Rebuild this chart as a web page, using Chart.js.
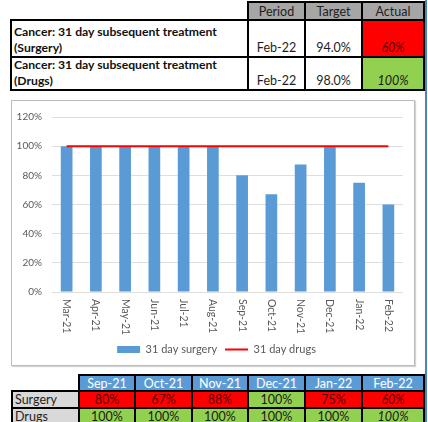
<!DOCTYPE html>
<html>
<head>
<meta charset="utf-8">
<title>Cancer: 31 day subsequent treatment</title>
<script src="https://cdn.jsdelivr.net/npm/chart.js@4.4.1/dist/chart.umd.min.js"></script>
<style>
  body { margin: 0; background: #fff; font-family: Lato, "Open Sans", sans-serif; }
  #page { position: relative; width: 428px; height: 422px; overflow: hidden; }
  .cell { position: absolute; box-sizing: border-box; border: 2px solid #000; display: flex;
          font-size: 12.5px; color: #1e1e1e; white-space: nowrap; }
  #edge { position: absolute; left: 425px; top: 0; width: 2px; height: 422px; background: #4f81bd; }
  #chartBox { position: absolute; left: 11px; top: 100px; width: 402px; height: 264px;
              border: 1px solid #bcbcbc; box-shadow: 1px 1px 1px #d4d4d4; }
</style>
</head>
<body>
<div id="page">
  <div id="chartBox"><canvas id="myChart" width="402" height="264"></canvas></div>
  <div id="edge"></div>
</div>
<script>
const months = ['Mar-21', 'Apr-21', 'May-21', 'Jun-21', 'Jul-21', 'Aug-21',
                'Sep-21', 'Oct-21', 'Nov-21', 'Dec-21', 'Jan-22', 'Feb-22'];
const surgery = [100, 100, 100, 100, 100, 100, 80, 67, 87.5, 100, 75, 60];
const drugs = [100, 100, 100, 100, 100, 100, 100, 100, 100, 100, 100, 100];
const measures = ['(Surgery)', '(Drugs)'];
const rowNames = ['Surgery', 'Drugs'];
const targets = [94.0, 98.0];
const yTicks = [0, 20, 40, 60, 80, 100, 120];

const font = 'Lato, "Open Sans", sans-serif';
const series = [surgery, drugs];
const last = months.length - 1;

// tables around the chart
const page = document.getElementById('page');
function cell(x0, y0, x1, y1, html, css) {
  const d = document.createElement('div');
  d.className = 'cell';
  d.style.left = (x0 - 1) + 'px';
  d.style.top = (y0 - 1) + 'px';
  d.style.width = (x1 - x0 + 2) + 'px';
  d.style.height = (y1 - y0 + 2) + 'px';
  Object.assign(d.style, css || {});
  d.innerHTML = html;
  page.appendChild(d);
}
function rag(v, t) {
  return v >= t ? { background: '#92d050', color: '#1a1a1a' } : { background: '#ff0000', color: '#5a0000' };
}

const topCols = [11, 248, 305, 362, 424];
const topRows = [2, 20, 57, 90];
['Period', 'Target', 'Actual'].forEach((h, i) => {
  cell(topCols[i + 1], topRows[0], topCols[i + 2], topRows[1], h,
    { background: '#a6a6a6', justifyContent: 'center', alignItems: 'center', paddingTop: '1px' });
});
measures.forEach((m, r) => {
  const y0 = topRows[r + 1], y1 = topRows[r + 2];
  cell(topCols[0], y0, topCols[1], y1, 'Cancer: 31 day subsequent treatment<br>' + m,
    { fontWeight: 'bold', fontSize: '12.2px', flexDirection: 'column', justifyContent: 'flex-end',
      lineHeight: '15.5px', padding: '0 0 1px 2px', color: '#111' });
  const bottom = { justifyContent: 'center', alignItems: 'flex-end', paddingBottom: '1px' };
  cell(topCols[1], y0, topCols[2], y1, months[last], bottom);
  cell(topCols[2], y0, topCols[3], y1, targets[r].toFixed(1) + '%', bottom);
  const v = series[r][last];
  cell(topCols[3], y0, topCols[4], y1, Math.round(v) + '%',
    Object.assign({}, bottom, rag(v, targets[r]), { fontStyle: 'italic' }));
});

const botCols = [12, 79, 135, 192, 248, 305, 362, 424];
const botRows = [375, 391, 408, 425];
const shown = months.slice(-6);
shown.forEach((m, i) => {
  cell(botCols[i + 1], botRows[0], botCols[i + 2], botRows[1], m,
    { background: '#5b9bd5', color: '#fff', justifyContent: 'center', alignItems: 'center' });
});
rowNames.forEach((n, r) => {
  const y0 = botRows[r + 1], y1 = botRows[r + 2];
  cell(botCols[0], y0, botCols[1], y1, n,
    { background: '#d9d9d9', alignItems: 'center', paddingLeft: '2px' });
  shown.forEach((m, i) => {
    const v = series[r][months.length - 6 + i];
    const css = Object.assign({ justifyContent: 'center', alignItems: 'center' }, rag(v, targets[r]));
    if (i === shown.length - 1) css.fontStyle = 'italic';
    cell(botCols[i + 1], y0, botCols[i + 2], y1, Math.round(v) + '%', css);
  });
});
page.appendChild(document.getElementById('edge'));

// month labels read top-to-bottom under each bar
const downLabels = {
  id: 'downLabels',
  afterLayout(chart) {
    // legend sits a little right of centre, as in the sheet
    chart.legend.left += 9;
    chart.legend.right += 9;
  },
  afterDraw(chart) {
    const ctx = chart.ctx;
    const xs = chart.scales.x;
    const top = chart.chartArea.bottom + 7;
    ctx.save();
    ctx.font = '10.5px ' + font;
    ctx.fillStyle = '#595959';
    ctx.textAlign = 'left';
    ctx.textBaseline = 'middle';
    chart.data.labels.forEach((lab, i) => {
      ctx.save();
      ctx.translate(xs.getPixelForTick(i), top);
      ctx.rotate(Math.PI / 2);
      ctx.fillText(lab, 0, 0);
      ctx.restore();
    });
    ctx.restore();
  }
};

const data = {
  labels: months,
  datasets: [
    {
      type: 'bar',
      label: '31 day surgery',
      data: surgery,
      backgroundColor: '#5b9bd5',
      borderWidth: 0,
      barPercentage: 0.4,
      categoryPercentage: 1,
      pointStyle: 'rect',
      order: 1
    },
    {
      type: 'line',
      label: '31 day drugs',
      data: drugs,
      borderColor: '#ff0000',
      backgroundColor: '#ff0000',
      borderWidth: 2,
      pointRadius: 0,
      pointStyle: 'line',
      order: 0
    }
  ]
};

const config = {
  type: 'bar',
  data: data,
  options: {
    responsive: false,
    animation: false,
    layout: { padding: { top: 11, right: 11, left: 0, bottom: 0 } },
    plugins: {
      legend: {
        position: 'bottom',
        labels: {
          usePointStyle: true,
          pointStyleWidth: 23,
          boxHeight: 7,
          padding: 8,
          color: '#595959',
          font: { size: 11, family: font },
          sort: (a, b) => a.datasetIndex - b.datasetIndex
        }
      },
      tooltip: { enabled: false }
    },
    scales: {
      x: {
        grid: { display: false },
        border: { display: false },
        ticks: { display: false },
        afterFit: s => { s.height = 44; }
      },
      y: {
        min: yTicks[0],
        max: yTicks[yTicks.length - 1],
        afterBuildTicks: s => { s.ticks = yTicks.map(v => ({ value: v })); },
        ticks: { callback: v => v + '%', color: '#595959', font: { size: 10, family: font }, padding: 10 },
        grid: { color: '#dedede', drawTicks: false },
        border: { display: false },
        afterFit: s => { s.width = 40; }
      }
    }
  },
  plugins: [downLabels]
};

const myChart = new Chart(document.getElementById('myChart'), config);
</script>
</body>
</html>
